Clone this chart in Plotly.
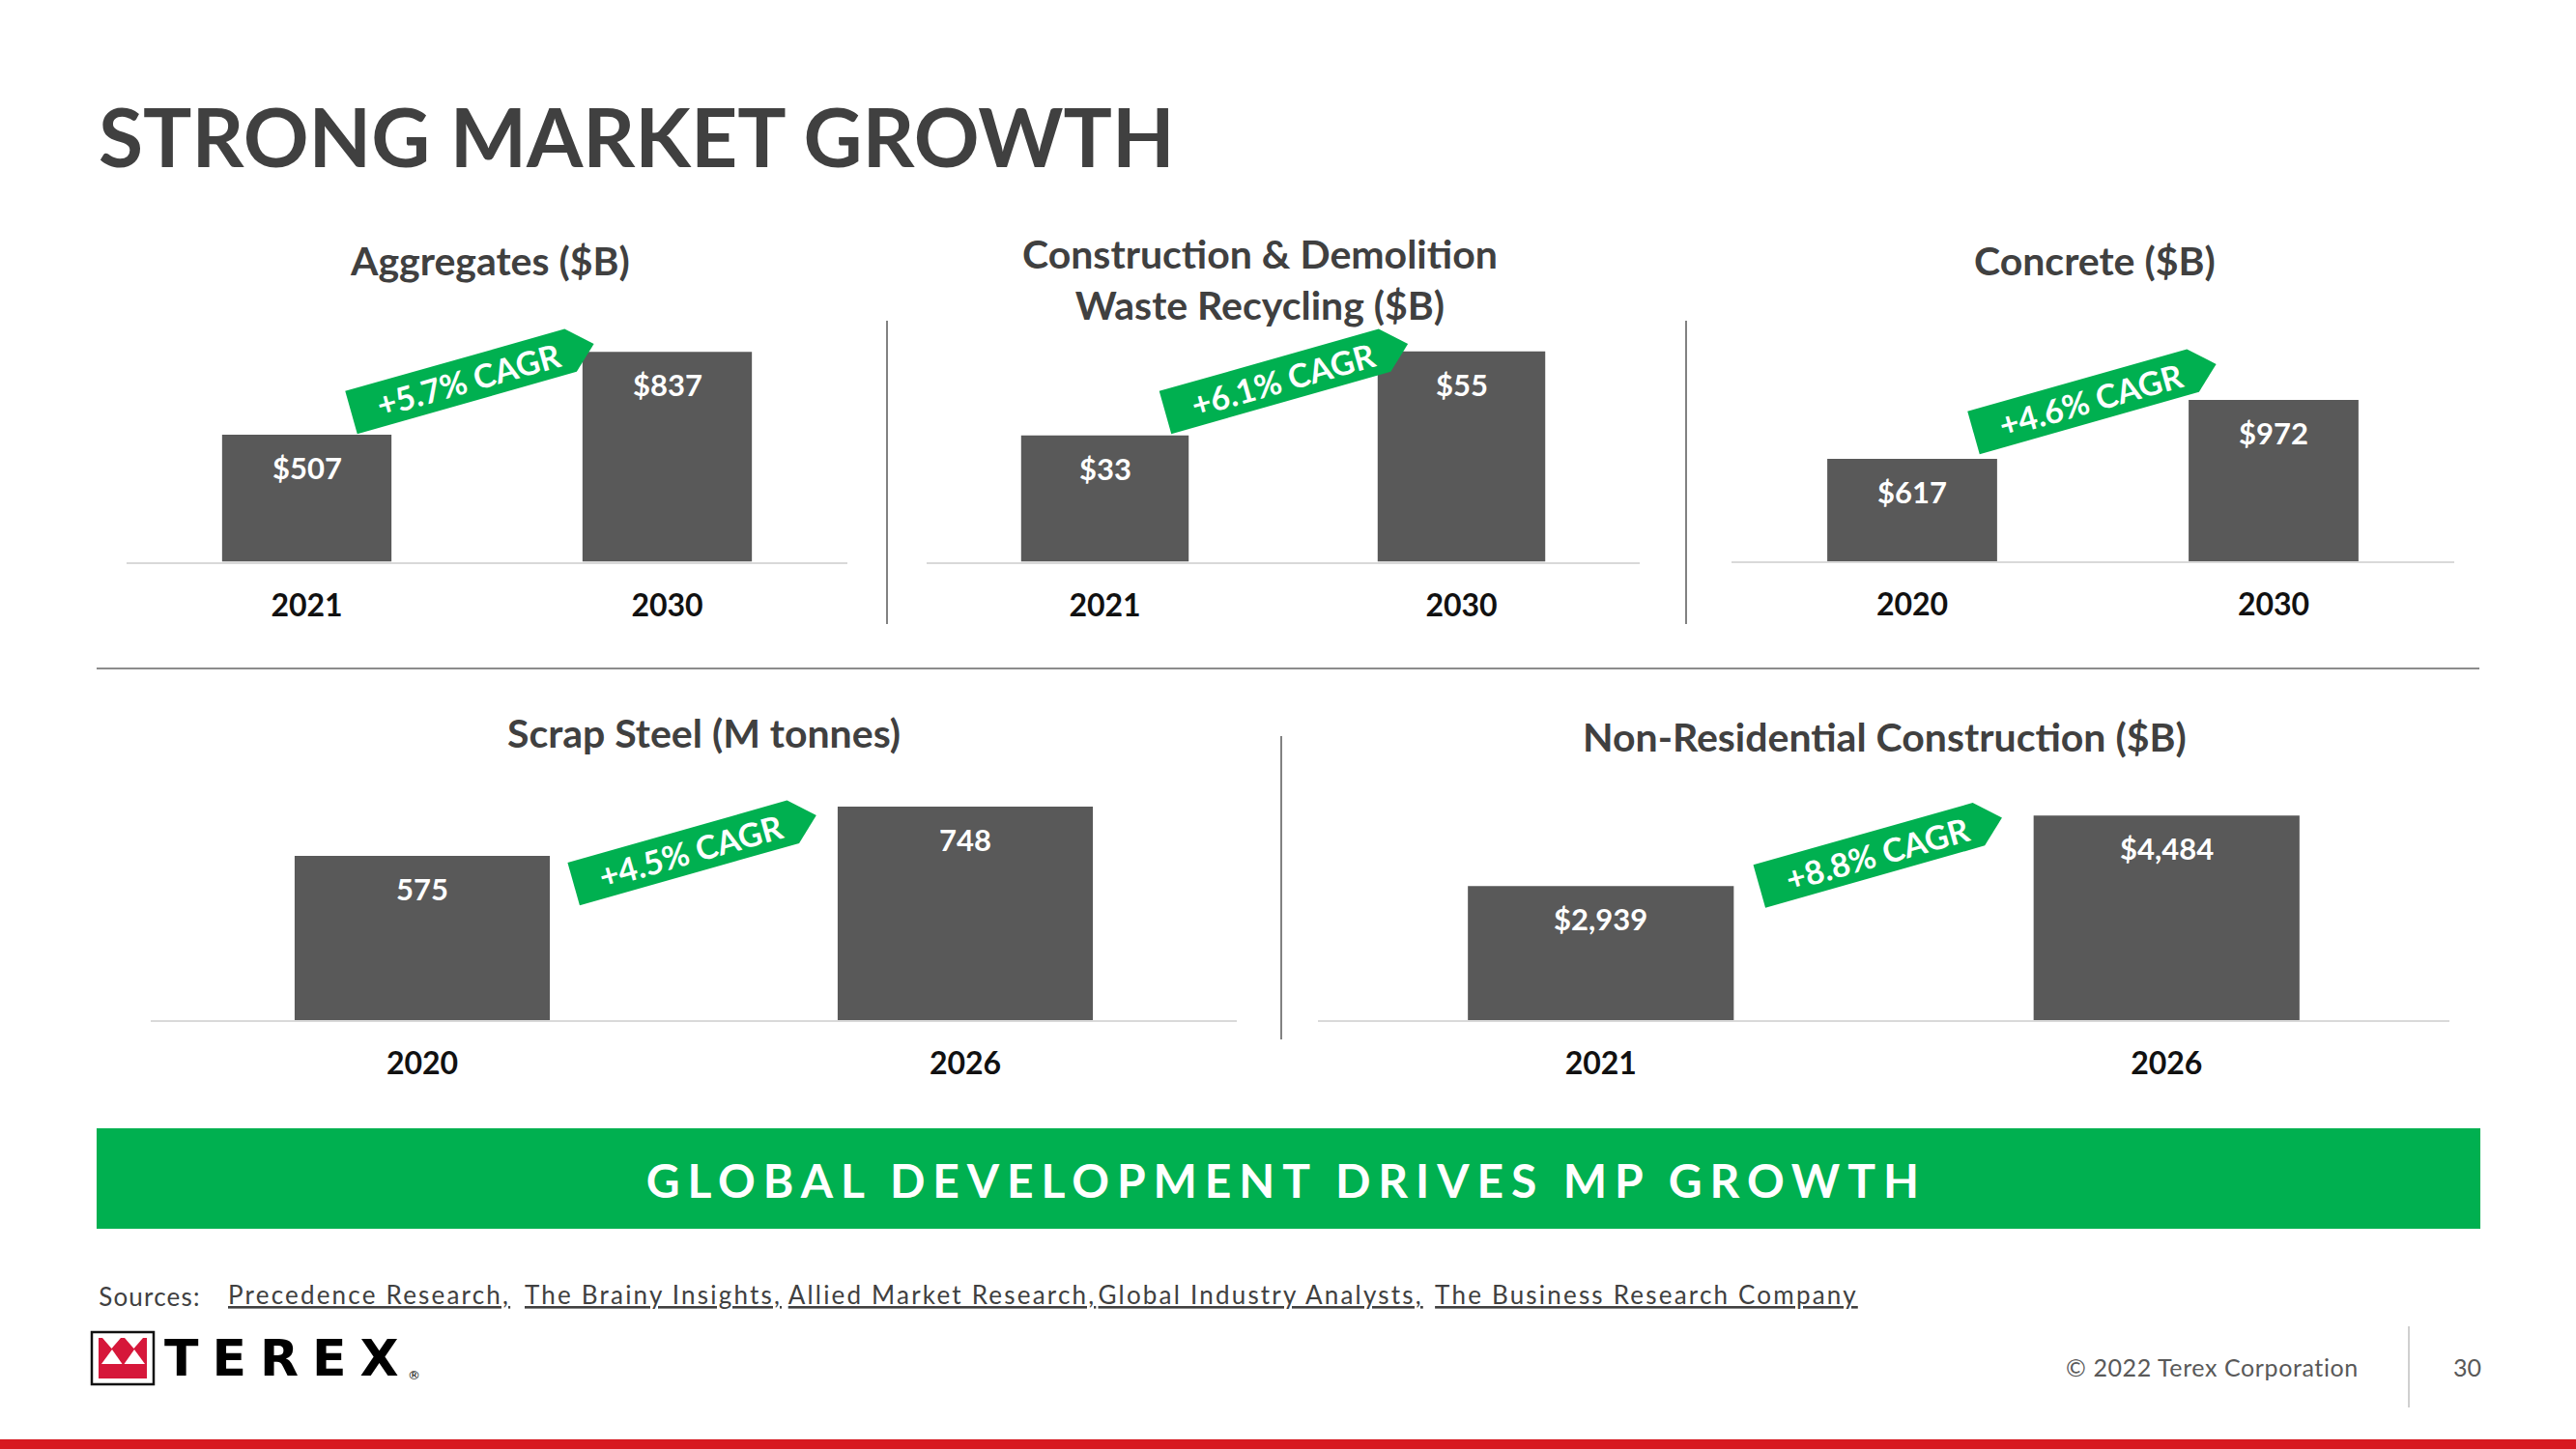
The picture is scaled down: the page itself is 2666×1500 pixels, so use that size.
import math
import plotly.graph_objects as go

W, H = 2666, 1500

# ---------------- data ----------------
chart_titles = [
    "Aggregates ($B)",
    "Construction & Demolition<br>Waste Recycling ($B)",
    "Concrete ($B)",
    "Scrap Steel (M tonnes)",
    "Non-Residential Construction ($B)",
]
aggregates_years = ["2021", "2030"]
aggregates_values = [507, 837]
cdw_years = ["2021", "2030"]
cdw_values = [33, 55]
concrete_years = ["2020", "2030"]
concrete_values = [617, 972]
scrap_years = ["2020", "2026"]
scrap_values = [575, 748]
nonres_years = ["2021", "2026"]
nonres_values = [2939, 4484]
value_prefix = ["$", "$", "$", "", "$"]
cagr_labels = ["+5.7% CAGR", "+6.1% CAGR", "+4.6% CAGR", "+4.5% CAGR", "+8.8% CAGR"]
page_title = "STRONG MARKET GROWTH"
banner_text = "GLOBAL DEVELOPMENT DRIVES MP GROWTH"
sources_label = "Sources:"
sources = [
    "Precedence Research,",
    "The Brainy Insights,",
    "Allied Market Research,",
    "Global Industry Analysts,",
    "The Business Research Company",
]
footer_text = "© 2022 Terex Corporation"
page_number = "30"

series = [
    (aggregates_years, aggregates_values),
    (cdw_years, cdw_values),
    (concrete_years, concrete_values),
    (scrap_years, scrap_values),
    (nonres_years, nonres_values),
]

# ---------------- style / layout (pixels) ----------------
FONT = "Lato, 'Open Sans', sans-serif"
BAR = "#595959"
GREEN = "#00B050"
TXT = "#404040"

panels = [
    dict(x0=131, x1=877, base=581.5, top=330, ymax=969, tx=507, ty=270, bl=(363.5, 427)),
    dict(x0=959, x1=1697, base=581.5, top=330, ymax=63.5, tx=1304, ty=289, bl=(1206, 427)),
    dict(x0=1792, x1=2540, base=581, top=330, ymax=1461, tx=2168, ty=270, bl=(2042.5, 448)),
    dict(x0=156, x1=1280, base=1056, top=790, ymax=900, tx=728, ty=758, bl=(593.7, 915)),
    dict(x0=1364, x1=2535, base=1056, top=790, ymax=5636, tx=1950, ty=762, bl=(1820.8, 917.5)),
]
source_centers = [382, 676, 975, 1304, 1704]


def px(x):
    return x / W


def py(y):
    return 1 - y / H


fig = go.Figure()
shapes = []
annotations = []
layout_axes = {}

for i, (p, (cats, vals)) in enumerate(zip(panels, series), start=1):
    sfx = "" if i == 1 else str(i)
    xa, ya = "x" + sfx, "y" + sfx
    fig.add_trace(go.Bar(
        x=cats, y=vals, xaxis=xa, yaxis=ya, width=0.47,
        marker=dict(color=BAR, line=dict(width=0)),
        hoverinfo="skip", showlegend=False,
    ))
    layout_axes["xaxis" + sfx] = dict(
        domain=[px(p["x0"]), px(p["x1"])], anchor=ya, type="category",
        range=[-0.5, len(cats) - 0.5], autorange=False, automargin=False,
        showline=True, linecolor="#D9D9D9", linewidth=2,
        ticks="", showgrid=False, zeroline=False, fixedrange=True,
        tickfont=dict(family=FONT, size=32, color="#111111", weight="bold"),
        ticklabelstandoff=16,
    )
    layout_axes["yaxis" + sfx] = dict(
        domain=[py(p["base"]), py(p["top"])], anchor=xa, range=[0, p["ymax"]],
        autorange=False, automargin=False,
        visible=False, fixedrange=True,
    )
    # value labels inside bars (x given as category index)
    for j, v in enumerate(vals):
        annotations.append(dict(
            x=j, y=v, xref=xa, yref=ya, yshift=-34, showarrow=False,
            text=f"{value_prefix[i-1]}{v:,}", xanchor="center", yanchor="middle",
            font=dict(family=FONT, size=31, color="white", weight="bold"),
        ))
    # chart title
    annotations.append(dict(
        x=px(p["tx"]), y=py(p["ty"]), xref="paper", yref="paper", showarrow=False,
        text=chart_titles[i-1], xanchor="center", yanchor="middle",
        font=dict(family=FONT, size=41, color=TXT, weight="bold"),
    ))
    # CAGR banner (rotated arrow)
    th = math.radians(15.8)
    L, Hh, tip = 236, 46, 25
    d = (math.cos(th), -math.sin(th))
    n = (math.sin(th), math.cos(th))
    cx, cy = p["bl"]
    lt = (cx - n[0] * Hh / 2, cy - n[1] * Hh / 2)
    lb = (cx + n[0] * Hh / 2, cy + n[1] * Hh / 2)
    rt = (lt[0] + d[0] * L, lt[1] + d[1] * L)
    rb = (lb[0] + d[0] * L, lb[1] + d[1] * L)
    tp = (cx + d[0] * (L + tip), cy + d[1] * (L + tip))
    pts = [lt, rt, tp, rb, lb]
    path = "M " + " L ".join(f"{px(a):.5f},{py(b):.5f}" for a, b in pts) + " Z"
    shapes.append(dict(type="path", xref="paper", yref="paper", path=path,
                       fillcolor=GREEN, line=dict(width=0), layer="above"))
    mx = cx + d[0] * (L / 2 + 8)
    my = cy + d[1] * (L / 2 + 8)
    annotations.append(dict(
        x=px(mx), y=py(my), xref="paper", yref="paper", showarrow=False,
        text=cagr_labels[i-1], textangle=-15.8, xanchor="center", yanchor="middle",
        font=dict(family=FONT, size=34, color="white", weight="bold"),
    ))


def line(x0, y0, x1, y1, color, width):
    shapes.append(dict(type="line", xref="paper", yref="paper",
                       x0=px(x0), y0=py(y0), x1=px(x1), y1=py(y1),
                       line=dict(color=color, width=width), layer="below"))


def rect(x0, y0, x1, y1, fill, lc=None, lw=0):
    shapes.append(dict(type="rect", xref="paper", yref="paper",
                       x0=px(x0), y0=py(y0), x1=px(x1), y1=py(y1),
                       fillcolor=fill, line=dict(color=lc or fill, width=lw), layer="above"))


def poly(pts, fill):
    path = "M " + " L ".join(f"{px(a):.5f},{py(b):.5f}" for a, b in pts) + " Z"
    shapes.append(dict(type="path", xref="paper", yref="paper", path=path,
                       fillcolor=fill, line=dict(width=0), layer="above"))


# separators
line(918, 332, 918, 646, "#595959", 1.5)
line(1745, 332, 1745, 646, "#595959", 1.5)
line(1326, 762, 1326, 1076, "#595959", 1.5)
line(100, 692, 2566, 692, "#8C8C8C", 2)

# page title
annotations.append(dict(
    x=px(100), y=py(140), xref="paper", yref="paper", showarrow=False,
    text=page_title, xanchor="left", yanchor="middle",
    font=dict(family=FONT, size=84, color=TXT, weight="bold"),
))

# green bottom banner
rect(100, 1168, 2567, 1272, GREEN)
annotations.append(dict(
    x=px(1331), y=py(1221), xref="paper", yref="paper", showarrow=False,
    text=banner_text, xanchor="center", yanchor="middle",
    font=dict(family=FONT, size=48, color="white", weight="bold"),
))

# sources
annotations.append(dict(
    x=px(155), y=py(1342), xref="paper", yref="paper", showarrow=False,
    text=sources_label, xanchor="center", yanchor="middle",
    font=dict(family=FONT, size=26, color=TXT),
))
for s, sx in zip(sources, source_centers):
    annotations.append(dict(
        x=px(sx), y=py(1340), xref="paper", yref="paper", showarrow=False,
        text=s, xanchor="center", yanchor="middle",
        font=dict(family=FONT, size=26, color=TXT, lineposition="under"),
    ))

# logo
rect(95, 1379, 159, 1433, "white", "#111111", 2.5)
rect(102, 1385, 152, 1427, "#D6173A")
poly([(106, 1385), (125, 1385), (115.5, 1396)], "white")
poly([(129, 1385), (148, 1385), (138.5, 1396)], "white")
poly([(105, 1412), (126.5, 1412), (116, 1397)], "white")
poly([(128.5, 1412), (150, 1412), (139, 1397)], "white")
annotations.append(dict(
    x=px(298), y=py(1406), xref="paper", yref="paper", showarrow=False,
    text="TEREX", xanchor="center", yanchor="middle",
    font=dict(family="'DejaVu Sans', sans-serif", size=52, color="#000000", weight="bold"),
))
annotations.append(dict(
    x=px(428), y=py(1423), xref="paper", yref="paper", showarrow=False,
    text="®", xanchor="center", yanchor="middle",
    font=dict(family="'DejaVu Sans', sans-serif", size=13, color="#000000"),
))

# footer
annotations.append(dict(
    x=px(2289), y=py(1415), xref="paper", yref="paper", showarrow=False,
    text=footer_text, xanchor="center", yanchor="middle",
    font=dict(family=FONT, size=25, color="#595959"),
))
line(2493, 1373, 2493, 1457, "#D0D0D0", 2)
annotations.append(dict(
    x=px(2553), y=py(1415), xref="paper", yref="paper", showarrow=False,
    text=page_number, xanchor="center", yanchor="middle",
    font=dict(family=FONT, size=25, color="#595959"),
))
rect(0, 1490, W, 1500, "#D71920")

fig.update_layout(
    width=W, height=H, margin=dict(l=0, r=0, t=0, b=0, autoexpand=False),
    paper_bgcolor="white", plot_bgcolor="white",
    showlegend=False, bargap=0.53,
    shapes=shapes, annotations=annotations,
    **layout_axes,
)

post = """
document.body.style.margin='0';
var gd=document.getElementById('{plot_id}');
var srcs=%s;
gd.querySelectorAll('.annotation-text').forEach(function(t){
  var s=t.textContent;
  if(s.indexOf('GLOBAL DEVELOPMENT')===0){t.style.letterSpacing='7.9px';}
  if(s==='TEREX'){t.style.letterSpacing='14px';}
  if(s==='Sources:'){t.style.letterSpacing='1.2px';}
  else if(srcs.indexOf(s)>=0){t.style.letterSpacing='2.2px';}
  if(s.indexOf('Terex Corporation')>=0){t.style.letterSpacing='0.6px';}
});
""" % (str(sources).replace("'", '"'))

fig.write_html("out.html", config={"displayModeBar": False}, post_script=post)
